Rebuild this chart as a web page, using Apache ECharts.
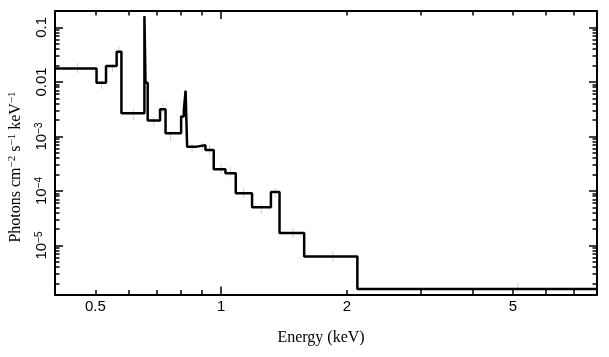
<!DOCTYPE html>
<html>
<head>
<meta charset="utf-8">
<script src="https://cdn.jsdelivr.net/npm/echarts@6/dist/echarts.min.js"></script>
<style>html,body{margin:0;padding:0;background:#fff}#c{width:609px;height:357px}</style>
</head>
<body>
<div id="c"></div>
<script>
// Bin edges (keV) and step values (photons cm^-2 s^-1 keV^-1)
const binEdges = [0.4, 0.503, 0.530, 0.562, 0.577, 0.655, 0.659, 0.667, 0.714, 0.736, 0.802, 0.814, 0.822, 0.829, 0.873, 0.917, 0.960, 1.024, 1.084, 1.186, 1.316, 1.380, 1.581, 2.120, 7.95];
const binFlux  = [0.0177, 0.0097, 0.0195, 0.0357, 0.00266, 0.161, 0.0097, 0.00195, 0.00315, 0.00115, 0.00231, 0.00297, 0.0069, 0.00065, 0.00069, 0.000566, 0.000251, 0.000212, 9.1e-5, 5.0e-5, 9.6e-5, 1.69e-5, 6.3e-6, 1.59e-6];
// Faint data points with vertical error bars
const ptEnergy = [0.453, 0.517, 0.549, 0.569, 0.616, 0.690, 0.725, 0.757, 0.819, 0.852, 0.901, 0.938, 1.0, 1.052, 1.132, 1.248, 1.348, 1.486, 1.852, 5.14];
const ptLow    = [0.0146, 0.0074, 0.0150, 0.0324, 0.00201, 0.00151, 0.00266, 0.000802, 0.0024, 0.000514, 0.00055, 0.00046, 0.000212, 0.000181, 7.4e-5, 3.8e-5, 7.4e-5, 1.37e-5, 5.1e-6, 1.35e-6];
const ptHigh   = [0.0222, 0.0104, 0.0210, 0.0454, 0.00306, 0.00230, 0.00406, 0.00122, 0.00336, 0.00072, 0.00077, 0.0007, 0.000323, 0.000276, 1.12e-4, 5.8e-5, 1.12e-4, 2.08e-5, 7.8e-6, 2.05e-6];
// Axis ticks
const xLabelTicks = [0.5, 1, 2, 5];
const xMajorTicks = [1];
const xMinorTicks = [0.5, 0.6, 0.7, 0.8, 0.9, 2, 3, 4, 5, 6, 7];
const yMajorTicks = [1e-5, 1e-4, 1e-3, 1e-2, 1e-1];
const yMinorMantissa = [2, 3, 4, 5, 6, 7, 8, 9];
const yMinorDecades = [1e-6, 1e-5, 1e-4, 1e-3, 1e-2];
const xRange = [0.4, 7.95];
const yRange = [1.26e-6, 0.2];

const yMinorTicks = [];
yMinorDecades.forEach(d => yMinorMantissa.forEach(m => yMinorTicks.push(+(m * d).toPrecision(3))));

const stepData = binEdges.map((e, i) => [e, binFlux[Math.min(i, binFlux.length - 1)]]);
const errData = ptEnergy.map((e, i) => [e, ptLow[i], ptHigh[i]]);

const tickFont = {fontFamily: 'Liberation Sans', fontSize: 15, color: '#000'};

function xAxisDef(pos, ticks, len, showLine, labels) {
  return {
    type: 'log', logBase: 10, min: xRange[0], max: xRange[1], position: pos,
    axisLine: {show: showLine, onZero: false, lineStyle: {color: '#000', width: 2}},
    axisTick: {show: true, inside: true, length: len, customValues: ticks, lineStyle: {color: '#000', width: 1.5}},
    axisLabel: labels ? Object.assign({show: true, margin: 5, customValues: labels, formatter: v => String(+v.toPrecision(3))}, tickFont) : {show: false},
    splitLine: {show: false}, minorTick: {show: false}, minorSplitLine: {show: false}
  };
}
function yLabel(v) {
  const p = Math.round(Math.log10(v));
  if (p >= -2) return String(+v.toPrecision(2));
  return '10{s|\u2212' + (-p) + '}';
}
function yAxisDef(pos, ticks, len, showLine, labels) {
  return {
    type: 'log', logBase: 10, min: yRange[0], max: yRange[1], position: pos,
    axisLine: {show: showLine, onZero: false, lineStyle: {color: '#000', width: 2}},
    axisTick: {show: true, inside: true, length: len, customValues: ticks, lineStyle: {color: '#000', width: 1.5}},
    axisLabel: labels ? Object.assign({
      show: true, margin: 6, rotate: 90, customValues: labels, formatter: yLabel,
      rich: {s: {fontFamily: 'Liberation Sans', fontSize: 10, verticalAlign: 'top', color: '#000'}}
    }, tickFont) : {show: false},
    splitLine: {show: false}, minorTick: {show: false}, minorSplitLine: {show: false}
  };
}

const chart = echarts.init(document.getElementById('c'), null, {renderer: 'canvas'});
chart.setOption({
  animation: false,
  backgroundColor: '#fff',
  grid: {left: 55, right: 12, top: 11, bottom: 62.5, containLabel: false},
  xAxis: [
    Object.assign(xAxisDef('bottom', xMajorTicks, 8, true, xLabelTicks), {
      name: 'Energy (keV)', nameLocation: 'middle', nameGap: 35,
      nameTextStyle: {fontFamily: 'Liberation Serif', fontSize: 16, color: '#000', padding: [0, 10, 0, 0]}
    }),
    xAxisDef('bottom', xMinorTicks, 4.5, false, null),
    xAxisDef('top', xMajorTicks, 8, true, null),
    xAxisDef('top', xMinorTicks, 4.5, false, null)
  ],
  yAxis: [
    yAxisDef('left', yMajorTicks, 8, true, yMajorTicks),
    yAxisDef('left', yMinorTicks, 4.5, false, null),
    yAxisDef('right', yMajorTicks, 8, true, null),
    yAxisDef('right', yMinorTicks, 4.5, false, null)
  ],
  graphic: [{
    type: 'text', x: 16, y: 167, rotation: Math.PI / 2,
    style: {
      text: '{n|Photons cm}{s|\u22122}{n| s}{s|\u22121}{n| keV}{s|\u22121}',
      align: 'center', verticalAlign: 'middle',
      rich: {
        n: {fontFamily: 'Liberation Serif', fontSize: 16, fill: '#000', lineHeight: 18},
        s: {fontFamily: 'Liberation Serif', fontSize: 11, fill: '#000', verticalAlign: 'top'}
      }
    }
  }],
  series: [{
    type: 'custom', xAxisIndex: 0, yAxisIndex: 0, z: 1, silent: true,
    data: errData, clip: true,
    renderItem: function (params, api) {
      const lo = api.coord([api.value(0), api.value(1)]);
      const hi = api.coord([api.value(0), api.value(2)]);
      return {
        type: 'line',
        shape: {x1: lo[0], y1: lo[1], x2: hi[0], y2: hi[1]},
        style: {stroke: '#cfcfcf', lineWidth: 1}
      };
    }
  }, {
    type: 'line', xAxisIndex: 0, yAxisIndex: 0, step: 'end', z: 2,
    data: stepData, showSymbol: false, symbol: 'none',
    lineStyle: {color: '#000', width: 2.5}, clip: true
  }]
});
</script>
</body>
</html>
